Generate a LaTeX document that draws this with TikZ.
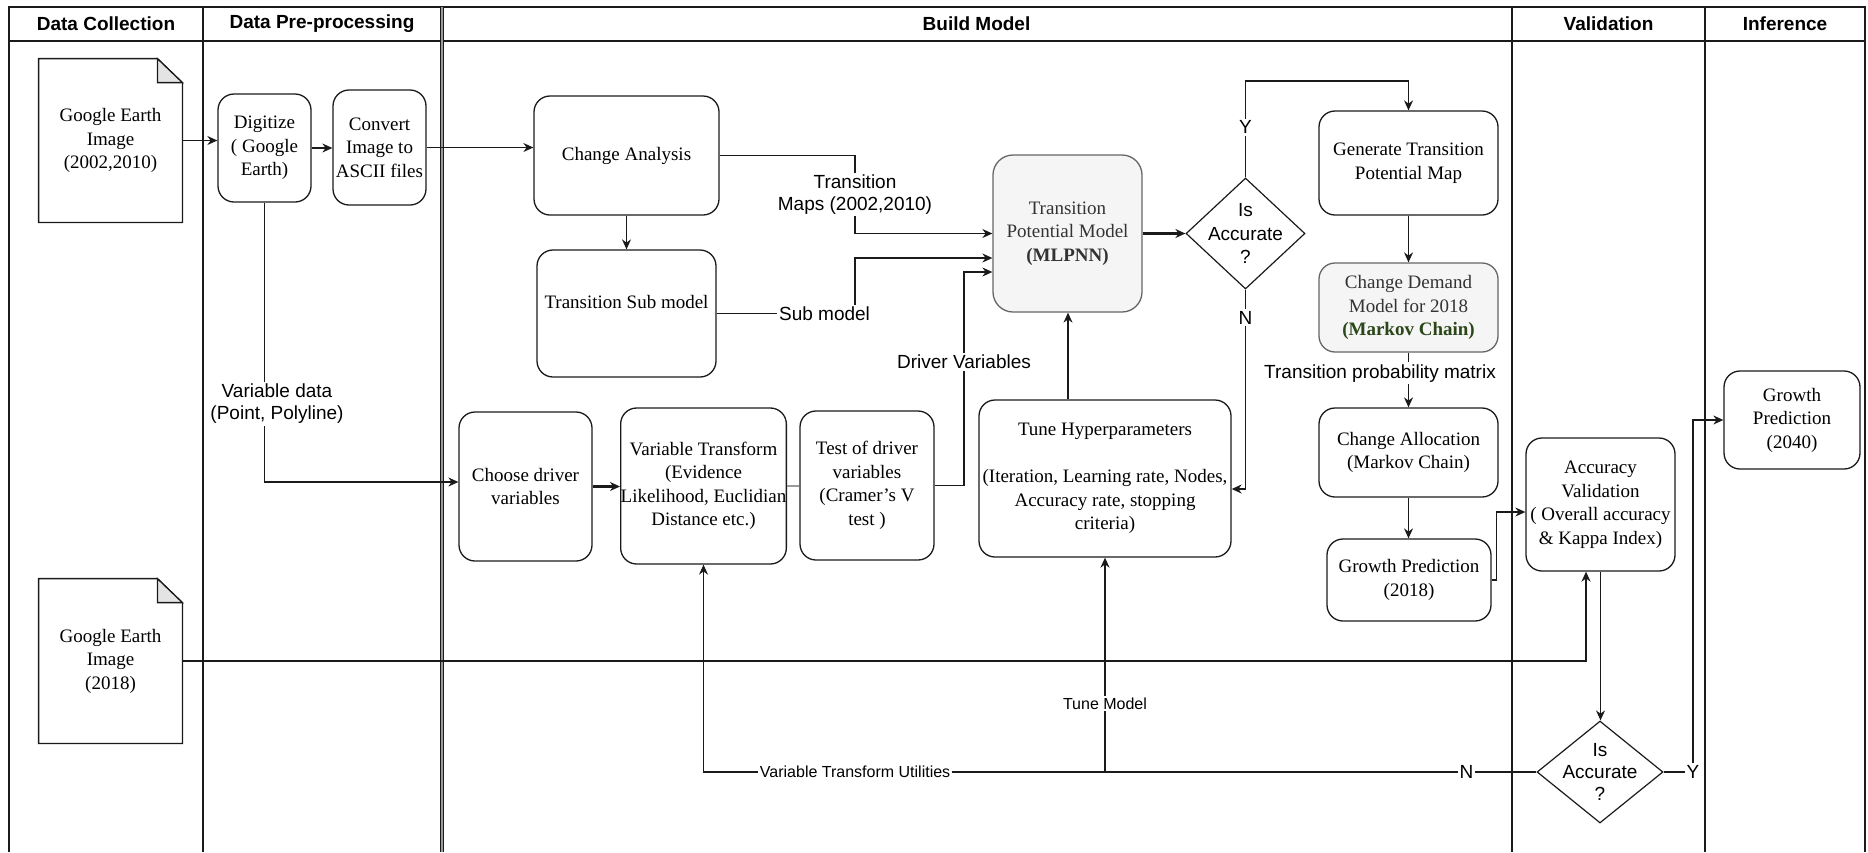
\documentclass[tikz,border=0pt]{standalone}
\usepackage{fontspec}
\setmainfont{Liberation Serif}
\setsansfont{Liberation Sans}
\usepackage{xcolor}
\usepackage{tikz}
\usetikzlibrary{arrows.meta,shapes.geometric}
\definecolor{ink}{HTML}{1A1A1A}
\definecolor{soft}{HTML}{F5F5F5}
\definecolor{softline}{HTML}{666666}
\definecolor{softtext}{HTML}{333333}
\definecolor{markov}{HTML}{2B4719}
\definecolor{fold}{HTML}{E4E4E4}
\definecolor{gapline}{HTML}{9A9A9A}
\tikzset{
  lane/.style={draw=ink, line width=0.6pt},
  head/.style={font=\sffamily\bfseries\fontsize{9.5}{11}\selectfont},
  box/.style={draw=ink, line width=0.65pt, rounded corners=8pt, align=center, inner sep=0pt, font=\fontsize{9.5}{11.75}\selectfont},
  gbox/.style={box, draw=softline, fill=soft, text=softtext},
  doc/.style={align=center, inner sep=0pt, font=\fontsize{9.5}{11.75}\selectfont},
  dec/.style={diamond, draw=ink, line width=0.6pt, inner sep=0pt},
  dtxt/.style={align=center, inner sep=0pt, font=\sffamily\fontsize{9.5}{11.75}\selectfont},
  link/.style={draw=ink, line width=0.6pt, -{Stealth[length=5pt,width=4.5pt]}},
  plain/.style={draw=ink, line width=0.65pt},
  lbl/.style={fill=white, inner sep=1pt, align=center, font=\sffamily\fontsize{9.5}{11}\selectfont},
  lbls/.style={lbl, font=\sffamily\fontsize{8}{9.5}\selectfont},
}
% page outline with a folded corner
\newcommand{\docfold}[1]{%
  \draw[plain] (#1.north west) -- ([xshift=-12.5pt]#1.north east)
    -- ([yshift=-12pt]#1.north east) -- (#1.south east) -- (#1.south west) -- cycle;
  \draw[plain, fill=fold] ([xshift=-12.5pt]#1.north east)
    -- ([xshift=-12.5pt,yshift=-12pt]#1.north east) -- ([yshift=-12pt]#1.north east) -- cycle;}

\begin{document}
\begin{tikzpicture}[x=0.5pt, y=-0.5pt]
  \useasboundingbox (0,0) rectangle (1868,852);
  % swimlanes
  \draw[lane] (9,852) -- (9,7) -- (1865,7) -- (1865,852);
  \draw[lane] (9,41) -- (1865,41);
  \draw[lane] (203,7) -- (203,852);
  \draw[lane, line width=0.5pt, double=gapline, double distance=1pt] (441.5,7) -- (441.5,852);
  \draw[lane] (1512,7) -- (1512,41);
  \draw[lane, line width=1.1pt] (1512,41) -- (1512,852);
  \draw[lane] (1705,7) -- (1705,852);
  \node[head] (hcol) at (106,24) {Data Collection};
  \node[head] (hpre) at (322,24) {Data Pre-processing};
  \node[head] (hbld) at (976.5,24) {Build Model};
  \node[head] (hval) at (1608.5,24) {Validation};
  \node[head] (hinf) at (1785,24) {Inference};

  % data collection
  \node[doc, minimum width=71.5pt, minimum height=81.5pt] (ge1) at (110.5,140.5) {Google Earth\\Image\\(2002,2010)};
  \docfold{ge1}
  \node[doc, minimum width=71.5pt, minimum height=82pt] (ge2) at (110.5,661) {Google Earth\\Image\\(2018)};
  \docfold{ge2}

  % pre-processing
  \node[box, minimum width=46.5pt, minimum height=54pt] (dig) at (264.5,148) {Digitize\\( Google\\Earth)};
  \node[box, minimum width=46.5pt, minimum height=57.5pt] (asc) at (379.5,147.5) {Convert\\Image to\\ASCII files};

  % build model
  \node[box, minimum width=92.5pt, minimum height=59.5pt] (chg) at (626.5,155.5) {Change Analysis};
  \node[box, minimum width=89.5pt, minimum height=63.5pt] (sub) at (626.5,313.5) {Transition Sub model\\\mbox{}};
  \node[gbox, rounded corners=10pt, minimum width=74.5pt, minimum height=78.5pt] (tpm) at (1067.5,233.5) {Transition\\Potential Model\\\textbf{(MLPNN)}};
  \node[dec, minimum width=59.5pt, minimum height=55.5pt] (acc1) at (1245.5,233.5) {};
  \node[dtxt] (acc1t) at (acc1) {Is\\Accurate\\?};
  \node[box, minimum width=89.5pt, minimum height=52pt] (gen) at (1408.5,163) {Generate Transition\\Potential Map};
  \node[gbox, minimum width=89.5pt, minimum height=44.5pt] (dem) at (1408.5,307.5) {Change Demand\\Model for 2018\\\textcolor{markov}{\textbf{(Markov Chain)}}};
  \node[box, minimum width=89.5pt, minimum height=44.5pt] (alc) at (1408.5,452.5) {Change Allocation\\(Markov Chain)};
  \node[box, minimum width=82pt, minimum height=41pt] (gp18) at (1409,580) {Growth Prediction\\(2018)};
  \node[box, minimum width=66.5pt, minimum height=74.5pt] (drv) at (525.5,486.5) {Choose driver\\variables};
  \node[box, minimum width=81.5pt, minimum height=78pt] (vtr) at (703.5,486) {Variable Transform\\(Evidence\\Likelihood, Euclidian\\Distance etc.)};
  \node[box, minimum width=67pt, minimum height=74.5pt] (tst) at (867,485.5) {Test of driver\\variables\\(Cramer's V\\test )};
  \node[box, minimum width=126pt, minimum height=78.5pt] (tun) at (1105,478.5) {Tune Hyperparameters\\[11.75pt](Iteration, Learning rate, Nodes,\\Accuracy rate, stopping\\criteria)};

  % validation and inference
  \node[box, minimum width=74.5pt, minimum height=66.5pt] (val) at (1600.5,504.5) {Accuracy\\Validation\\( Overall accuracy\\\& Kappa Index)};
  \node[dec, minimum width=63pt, minimum height=51pt] (acc2) at (1600,772) {};
  \node[dtxt, font=\sffamily\fontsize{9.5}{11}\selectfont] (acc2t) at (acc2) {Is\\Accurate\\?};
  \node[box, minimum width=68pt, minimum height=49pt] (gp40) at (1792,420) {Growth\\Prediction\\(2040)};

  % connectors
  \coordinate (mapx) at (855,0);
  \coordinate (drvx) at (964,0);
  \coordinate (ytop) at (0,81);
  \coordinate (yx) at (1693,0);
  \coordinate (tin2) at ([yshift=-12.25pt]tpm.west);
  \coordinate (tin3) at ([yshift=-19.25pt]tpm.west);
  \coordinate (tout) at ([xshift=-18.5pt]tun.north);
  \draw[link] (ge1.east) -- (ge1.east -| dig.west);
  \draw[link] (dig.east) -- (dig.east -| asc.west);
  \draw[link] (asc.east) -- (asc.east -| chg.west);
  \draw[link] (chg) -- (sub);
  \draw[link] (chg.east) -| node[lbl, pos=0.75] {Transition\\Maps (2002,2010)} (mapx |- tpm.west) -- (tpm.west);
  \draw[link] (sub.east) -| node[lbl, pos=0.39] {Sub model} (mapx |- tin2) -- (tin2);
  \draw[link] (tst.east) -| node[lbl, pos=0.79] {Driver Variables} (drvx |- tin3) -- (tin3);
  \draw[link, line width=1.1pt] (drv.east) -- (drv.east -| vtr.west);
  \draw[plain, draw=gapline] (vtr.east) -- (vtr.east -| tst.west);
  \draw[link] (dig.south) |- node[lbl, pos=0.36, xshift=6.25pt] {Variable data\\(Point, Polyline)} ([yshift=2.25pt]drv.west);
  \draw[link, line width=1.1pt] (tpm.east) -- (acc1.west);
  \draw[link] (acc1.north) |- node[lbl, pos=0.26] {Y} (gen.north |- ytop) -- (gen.north);
  \draw[link] (acc1.south) |- node[lbl, pos=0.07] {N} ([yshift=-5.25pt]tun.east);
  \draw[link] (tout) -- (tout |- tpm.south);
  \draw[link] (gen) -- (dem);
  \draw[link] (dem) -- node[lbl, pos=0.375, xshift=-14.25pt] {Transition probability matrix} (alc);
  \draw[link] (alc.south) -- (alc.south |- gp18.north);
  \draw[link] (gp18.east) -- ++(5,0) |- ([yshift=-3.75pt]val.west);
  \draw[link] (ge2.east) -| ([xshift=-7.25pt]val.south);
  \draw[link] (val.south) -- (val.south |- acc2.north);
  \draw[link] (acc2.west) -| node[lbl, pos=0.042] {N} node[lbls, pos=0.409] {Variable Transform Utilities} (vtr.south);
  \draw[link] (tun.south |- acc2.west) -- node[lbls, pos=0.32] {Tune Model} (tun.south);
  \draw[link] (acc2.east) -| node[lbl, pos=0.5] {Y} (yx |- gp40.west) -- (gp40.west);
\end{tikzpicture}
\end{document}
